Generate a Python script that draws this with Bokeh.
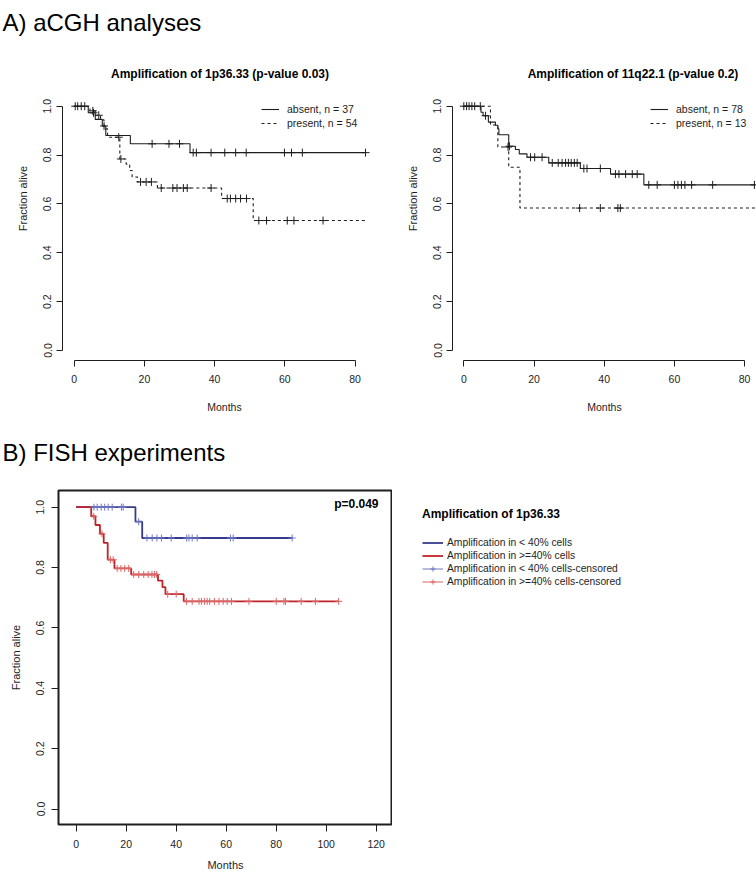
import numpy as np
from bokeh.plotting import figure
from bokeh.models import Range1d, FixedTicker, Label, Legend, LegendItem, ColumnDataSource
from bokeh.layouts import column, row
from bokeh.embed import file_html
from bokeh.resources import INLINE

FONT = "Liberation Sans"
INK = "#1e1e1e"
BLUE = "#363b8e"
RED = "#be2329"
BLUE_L = "#6f78c4"
RED_L = "#dd6565"

# ---------------- texts ----------------
heading_a = "A) aCGH analyses"
heading_b = "B) FISH experiments"
a1_title = "Amplification of 1p36.33 (p-value 0.03)"
a2_title = "Amplification of 11q22.1 (p-value 0.2)"
a1_labels = ["absent, n = 37", "present, n = 54"]
a2_labels = ["absent, n = 78", "present, n = 13"]
b_legend_title = "Amplification of 1p36.33"
b_labels = ["Amplification in < 40% cells", "Amplification in >=40% cells",
            "Amplification in < 40% cells-censored", "Amplification in >=40% cells-censored"]
b_pvalue = "p=0.049"
x_label = "Months"
y_label = "Fraction alive"

# ---------------- ticks ----------------
y_ticks = [0.0, 0.2, 0.4, 0.6, 0.8, 1.0]
y_tick_labels = ["0.0", "0.2", "0.4", "0.6", "0.8", "1.0"]
a_x_ticks = [0, 20, 40, 60, 80]
a_x_tick_labels = ["0", "20", "40", "60", "80"]
b_x_ticks = [0, 20, 40, 60, 80, 100, 120]
b_x_tick_labels = ["0", "20", "40", "60", "80", "100", "120"]

# ---------------- data: A) 1p36.33 ----------------
a1_abs_times = [0, 4.0, 6.0, 8.0, 9.0, 16.0, 33.0]
a1_abs_surv = [1.0, 0.973, 0.946, 0.919, 0.880, 0.846, 0.810]
a1_abs_end = 83.0
a1_abs_cens = [1.0, 3.0, 5.5, 8.5, 22.2, 27.0, 30.0, 33.9, 34.8, 39.0, 42.9, 46.0,
               49.0, 59.9, 61.9, 65.0, 83.0]

a1_pre_times = [0, 4.5, 6.0, 7.5, 8.5, 9.5, 13.0, 14.8, 15.8, 16.5, 18.0, 23.7, 42.0, 51.0]
a1_pre_surv = [1.0, 0.981, 0.963, 0.944, 0.907, 0.873, 0.784, 0.763, 0.737, 0.710,
               0.690, 0.665, 0.622, 0.532]
a1_pre_end = 83.0
a1_pre_cens = [0.3, 2.0, 5.3, 7.0, 12.7, 13.3, 18.9, 20.5, 22.0, 24.8, 28.1, 29.3,
               31.1, 32.2, 39.0, 43.6, 44.5, 46.0, 47.4, 49.1, 52.6, 54.8, 60.7, 62.6, 70.9]

# ---------------- data: A) 11q22.1 ----------------
a2_abs_times = [0, 4.9, 5.5, 7.0, 9.0, 9.7, 10.0, 12.8, 14.7, 15.8, 18.0, 24.2, 33.2, 41.8, 51.3]
a2_abs_surv = [1.0, 0.975, 0.961, 0.935, 0.922, 0.908, 0.883, 0.836, 0.823, 0.805,
               0.791, 0.768, 0.745, 0.722, 0.678]
a2_abs_end = 83.0
a2_abs_cens = [0.0, 0.8, 1.5, 2.3, 3.1, 4.7, 6.2, 13.0, 19.0, 20.2, 22.3, 25.2, 26.9,
               28.0, 29.0, 29.8, 30.6, 31.5, 32.3, 34.2, 35.1, 38.9, 43.2, 44.2, 46.1,
               48.0, 49.4, 52.7, 55.1, 60.0, 61.0, 62.0, 63.0, 64.9, 70.9, 82.8]

a2_pre_times = [0, 7.6, 9.7, 12.8, 16.0]
a2_pre_surv = [1.0, 0.923, 0.833, 0.750, 0.583]
a2_pre_end = 83.0
a2_pre_cens = [12.6, 33.0, 38.9, 43.9, 44.6]

# ---------------- data: B) FISH ----------------
b_low_times = [0, 23.7, 26.4]
b_low_surv = [1.0, 0.952, 0.898]
b_low_end = 86.4
b_low_cens = [7.1, 8.4, 10.0, 11.4, 12.8, 14.4, 18.1, 18.8, 25.0, 28.3, 30.4, 32.3,
              34.1, 38.0, 44.2, 45.1, 46.4, 48.4, 61.7, 62.8, 86.4]

b_high_times = [0, 6.0, 7.7, 9.5, 11.0, 12.6, 15.3, 22.0, 32.7, 34.5, 35.7, 43.0]
b_high_surv = [1.0, 0.970, 0.941, 0.912, 0.882, 0.826, 0.797, 0.777, 0.757, 0.735,
               0.712, 0.688]
b_high_end = 105.0
b_high_cens = [7.0, 10.3, 13.7, 14.8, 16.4, 17.9, 19.4, 21.0, 23.0, 25.0, 27.0, 28.8,
               30.3, 31.3, 32.2, 36.6, 40.0, 44.1, 46.4, 49.1, 50.1, 51.3, 52.4, 53.4,
               55.3, 57.1, 58.8, 60.4, 62.1, 69.1, 80.0, 83.1, 83.7, 90.0, 95.7, 105.0]


# ---------------- helpers ----------------
def km_source(times, surv, end):
    return ColumnDataSource(dict(x=list(times) + [end], y=list(surv) + [surv[-1]]))


def cens_source(times, surv, cens):
    t = np.asarray(times, float)
    s = np.asarray(surv, float)
    c = np.asarray(cens, float)
    idx = np.searchsorted(t, c, side="right") - 1
    return ColumnDataSource(dict(x=c, y=s[idx]))


class Frame:
    """Pixel placement of a plotting frame: where month 0 / fraction 0 fall, and px per unit."""
    def __init__(self, left, right, top, bottom, x0px, sx, y0px, sy):
        self.left, self.right, self.top, self.bottom = left, right, top, bottom
        self.x0px, self.sx, self.y0px, self.sy = x0px, sx, y0px, sy

    def x(self, px):
        return (px - self.x0px) / self.sx

    def y(self, py):
        return (self.y0px - py) / self.sy

    @property
    def xr(self):
        return (self.x(self.left), self.x(self.right))

    @property
    def yr(self):
        return (self.y(self.bottom), self.y(self.top))


def make_fig(fr, canvas_left, canvas_top, canvas_w, canvas_h):
    fw = fr.right - fr.left
    fh = fr.bottom - fr.top
    p = figure(frame_width=int(round(fw)), frame_height=int(round(fh)),
               x_range=Range1d(*fr.xr), y_range=Range1d(*fr.yr),
               min_border_left=int(round(fr.left - canvas_left)),
               min_border_right=int(round(canvas_left + canvas_w - fr.right)),
               min_border_top=int(round(fr.top - canvas_top)),
               min_border_bottom=int(round(canvas_top + canvas_h - fr.bottom)),
               output_backend="svg", toolbar_location=None, tools="")
    p.grid.visible = False
    p.background_fill_color = "white"
    p.border_fill_color = "white"
    return p


def style_axis(ax, ticks, labels, tick_len, tick_font, label_font, tick_standoff,
               label_standoff, bounds=None, line=True, vertical=False):
    ax.ticker = FixedTicker(ticks=ticks, minor_ticks=[])
    ax.major_label_overrides = dict(zip(ticks, labels))
    ax.major_tick_out = tick_len
    ax.major_tick_in = 0
    ax.minor_tick_line_color = None
    ax.major_tick_line_color = INK
    ax.major_tick_line_width = 1
    ax.axis_line_color = INK if line else None
    ax.axis_line_width = 1
    if bounds is not None:
        ax.bounds = bounds
    ax.major_label_text_font = FONT
    ax.major_label_text_font_size = tick_font
    ax.major_label_text_color = INK
    ax.major_label_standoff = tick_standoff
    ax.axis_label_text_font = FONT
    ax.axis_label_text_font_size = label_font
    ax.axis_label_text_font_style = "normal"
    ax.axis_label_text_color = INK
    ax.axis_label_standoff = label_standoff
    if vertical:
        ax.major_label_orientation = "vertical"


def header(text, height, baseline):
    f = figure(width=756, height=height, x_range=Range1d(0, 756), y_range=Range1d(height, 0),
               x_axis_type=None, y_axis_type=None, min_border=0,
               output_backend="svg", toolbar_location=None, tools="")
    f.outline_line_color = None
    f.grid.visible = False
    f.background_fill_color = "white"
    f.border_fill_color = "white"
    f.add_layout(Label(x=2, y=baseline, text=text, text_font=FONT, text_font_size="24px",
                       text_color="black", text_align="left", text_baseline="alphabetic"))
    return f


def top_panel(fr, canvas_left, canvas_w, title, title_cx, labels, abs_d, pre_d, leg_left):
    p = make_fig(fr, canvas_left, 36, canvas_w, 394)
    p.outline_line_color = None
    p.xaxis.axis_label = x_label
    p.yaxis.axis_label = y_label
    style_axis(p.xaxis[0], a_x_ticks, a_x_tick_labels, 6, "10.5px", "10.5px", 8, 15,
               bounds=(0, 80))
    style_axis(p.yaxis[0], y_ticks, y_tick_labels, 6, "10.5px", "11px", 5, 12,
               bounds=(0, 1), vertical=True)
    r_abs = p.step("x", "y", source=km_source(*abs_d[:3]), mode="after",
                   line_color=INK, line_width=1.1)
    r_pre = p.step("x", "y", source=km_source(*pre_d[:3]), mode="after",
                   line_color=INK, line_width=1.1, line_dash="3 3")
    p.scatter("x", "y", source=cens_source(abs_d[0], abs_d[1], abs_d[3]), marker="cross",
              size=8, line_color=INK, line_width=1)
    p.scatter("x", "y", source=cens_source(pre_d[0], pre_d[1], pre_d[3]), marker="cross",
              size=8, line_color=INK, line_width=1)
    leg = Legend(items=[LegendItem(label=labels[0], renderers=[r_abs]),
                        LegendItem(label=labels[1], renderers=[r_pre])],
                 location=(leg_left - fr.left, fr.bottom - 128.5), border_line_color=None,
                 background_fill_alpha=0, padding=0, margin=0, spacing=2, glyph_width=18,
                 glyph_height=12, label_height=12, label_standoff=8, label_text_font=FONT,
                 label_text_font_size="10.5px", label_text_color=INK)
    p.add_layout(leg)
    p.add_layout(Label(x=fr.x(title_cx), y=fr.y(73.5), text=title, text_font=FONT,
                       text_font_size="12px", text_font_style="bold", text_color="black",
                       text_align="center", text_baseline="middle"))
    return p


# ---------------- layout in page pixels ----------------
hA = header(heading_a, 36, 22)

fr1 = Frame(62, 386, 36, 360, 73.7, 3.51, 350.0, 244.3)
p1 = top_panel(fr1, 0, 386, a1_title, 219.5, a1_labels,
               (a1_abs_times, a1_abs_surv, a1_abs_end, a1_abs_cens),
               (a1_pre_times, a1_pre_surv, a1_pre_end, a1_pre_cens), 261)

fr2 = Frame(452, 756, 36, 360, 463.3, 3.51, 350.0, 244.3)
p2 = top_panel(fr2, 386, 370, a2_title, 632.5, a2_labels,
               (a2_abs_times, a2_abs_surv, a2_abs_end, a2_abs_cens),
               (a2_pre_times, a2_pre_surv, a2_pre_end, a2_pre_cens), 650)

hB = header(heading_b, 40, 22)

fr3 = Frame(58, 392, 490, 824, 75.7, 2.5, 808.5, 301.8)
p3 = make_fig(fr3, 0, 470, 392, 402)
p3.outline_line_color = INK
p3.outline_line_width = 2
p3.xaxis.axis_label = x_label
p3.yaxis.axis_label = y_label
style_axis(p3.xaxis[0], b_x_ticks, b_x_tick_labels, 7, "10.5px", "11px", 8, 8, line=False)
style_axis(p3.yaxis[0], y_ticks, y_tick_labels, 7, "10.5px", "11px", 7, 12, line=False,
           vertical=True)
p3.step("x", "y", source=km_source(b_low_times, b_low_surv, b_low_end), mode="after",
        line_color=BLUE, line_width=1.8)
p3.step("x", "y", source=km_source(b_high_times, b_high_surv, b_high_end), mode="after",
        line_color=RED, line_width=1.8)
p3.scatter("x", "y", source=cens_source(b_low_times, b_low_surv, b_low_cens),
           marker="cross", size=7, line_color=BLUE_L, line_width=1)
p3.scatter("x", "y", source=cens_source(b_high_times, b_high_surv, b_high_cens),
           marker="cross", size=7, line_color=RED_L, line_width=1)
p3.add_layout(Label(x=fr3.x(378), y=fr3.y(503), text=b_pvalue, text_font=FONT,
                    text_font_size="12px", text_font_style="bold", text_color="black",
                    text_align="right", text_baseline="middle"))

# legend panel to the right of the FISH plot; its frame lines up with the FISH frame
pL = figure(frame_width=364, frame_height=334, x_range=Range1d(0, 364),
            y_range=Range1d(0, 334), x_axis_type=None, y_axis_type=None,
            min_border_left=0, min_border_right=0, min_border_top=20, min_border_bottom=48,
            output_backend="svg", toolbar_location=None, tools="")
pL.outline_line_color = None
pL.grid.visible = False
nan = [np.nan]
k_low = pL.line(x=nan, y=nan, line_color=BLUE, line_width=1.8)
k_high = pL.line(x=nan, y=nan, line_color=RED, line_width=1.8)
k_low_c = pL.line(x=nan, y=nan, line_color=BLUE_L, line_width=1)
k_high_c = pL.line(x=nan, y=nan, line_color=RED_L, line_width=1)
m_low_c = pL.scatter(x=nan, y=nan, marker="cross", size=8, line_color=BLUE_L, line_width=1)
m_high_c = pL.scatter(x=nan, y=nan, marker="cross", size=8, line_color=RED_L, line_width=1)
legL = Legend(title=b_legend_title,
              items=[LegendItem(label=b_labels[0], renderers=[k_low]),
                     LegendItem(label=b_labels[1], renderers=[k_high]),
                     LegendItem(label=b_labels[2], renderers=[k_low_c, m_low_c]),
                     LegendItem(label=b_labels[3], renderers=[k_high_c, m_high_c])],
              location=(422 - 392, 824 - 588), border_line_color=None,
              background_fill_alpha=0, padding=0, margin=0, spacing=0, glyph_width=21,
              glyph_height=13, label_height=13, label_standoff=4, label_text_font=FONT,
              label_text_font_size="10.3px", label_text_color=INK,
              title_text_font=FONT, title_text_font_size="12px",
              title_text_font_style="bold", title_text_color="black", title_standoff=15)
pL.add_layout(legL)

layout = column(hA, row(p1, p2, spacing=0), hB, row(p3, pL, spacing=0), spacing=0)
open("out.html", "w").write(file_html(layout, INLINE))
